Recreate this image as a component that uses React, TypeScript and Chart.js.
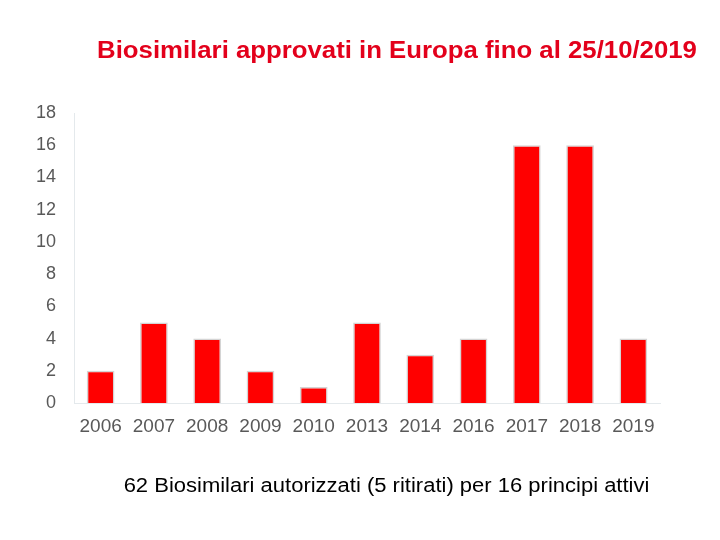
import React, { useEffect, useRef } from "react";
import { Chart, registerables } from "chart.js";

Chart.register(...registerables);

const years = ["2006", "2007", "2008", "2009", "2010", "2013", "2014", "2016", "2017", "2018", "2019"];
const approvals = [2, 5, 4, 2, 1, 5, 3, 4, 16, 16, 4];
const yTicks = [0, 2, 4, 6, 8, 10, 12, 14, 16, 18];

const titleText = "Biosimilari approvati in Europa fino al 25/10/2019";
const noteText = "62 Biosimilari autorizzati (5 ritirati) per 16 principi attivi";

const FONT = "'Liberation Sans', Arial, sans-serif";

// Draws a line of text centred on cx, widened horizontally by sx
function wideText(ctx: CanvasRenderingContext2D, text: string, cx: number, y: number, sx: number) {
  ctx.save();
  ctx.translate(cx, y);
  ctx.scale(sx, 1);
  ctx.fillText(text, 0, 0);
  ctx.restore();
}

// Heading above the plot and the summary line below the axis
const captions = {
  id: "captions",
  afterDraw(chart: Chart) {
    const ctx = chart.ctx;
    ctx.save();
    ctx.textBaseline = "alphabetic";
    ctx.textAlign = "center";
    ctx.fillStyle = "#e3001b";
    ctx.font = `bold 23px ${FONT}`;
    wideText(ctx, titleText, 397, 58, 1.12);
    ctx.fillStyle = "#000000";
    ctx.font = `20px ${FONT}`;
    wideText(ctx, noteText, 386.5, 492, 1.1);
    ctx.restore();
  },
};

export default function App() {
  const ref = useRef<HTMLCanvasElement | null>(null);

  useEffect(() => {
    if (!ref.current) return;
    const chart = new Chart(ref.current, {
      type: "bar",
      data: {
        labels: years,
        datasets: [
          {
            data: approvals,
            backgroundColor: "#ff0000",
            borderColor: "rgba(205,205,205,0.85)",
            borderWidth: 1.5,
            barPercentage: 0.52,
            categoryPercentage: 1,
          },
        ],
      },
      options: {
        responsive: false,
        animation: false,
        layout: { padding: { top: 113, right: 60, left: 0, bottom: 0 } },
        plugins: {
          legend: { display: false },
          tooltip: { enabled: false },
          title: { display: false },
        },
        scales: {
          x: {
            grid: { display: false, drawTicks: false },
            border: { display: true, color: "#e4e9ec", width: 1 },
            ticks: {
              color: "#595959",
              font: { family: FONT, size: 19 },
              padding: 12,
              maxRotation: 0,
              autoSkip: false,
            },
            afterFit(scale: any) {
              scale.height = 137;
            },
          },
          y: {
            min: 0,
            max: 18,
            grid: { display: false, drawTicks: false },
            border: { display: true, color: "#e4e9ec", width: 1 },
            afterBuildTicks(scale: any) {
              scale.ticks = yTicks.map((v) => ({ value: v }));
            },
            ticks: {
              color: "#595959",
              font: { family: FONT, size: 18 },
              padding: 18,
            },
            afterFit(scale: any) {
              scale.width = 74;
            },
          },
        },
      },
      plugins: [captions],
    });
    return () => chart.destroy();
  }, []);

  return (
    <div style={{ position: "absolute", left: 0, top: 0, width: 720, height: 540, background: "#ffffff" }}>
      <canvas ref={ref} width={720} height={540} style={{ display: "block" }} />
    </div>
  );
}
